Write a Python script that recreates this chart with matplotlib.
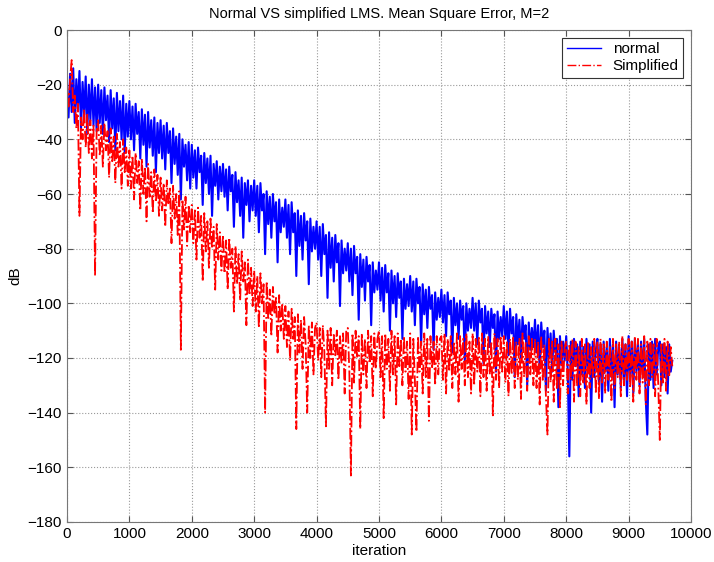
import numpy as np
import matplotlib
matplotlib.use('Agg')
import matplotlib.pyplot as plt

STEP = 25  # iterations between stored samples

# mean square error in dB, normal LMS (one row = 500 iterations)
mse_normal = [
    -24, -32, -16, -30, -14, -34, -18, -29, -15, -36, -19, -31, -17, -38, -20, -33, -18, -35, -21, -37,
    -20, -34, -22, -38, -21, -33, -24, -41, -22, -36, -25, -44, -23, -37, -26, -40, -24, -45, -27, -39,
    -26, -40, -28, -44, -27, -38, -30, -47, -29, -42, -31, -50, -30, -43, -33, -46, -32, -52, -34, -45,
    -33, -47, -35, -51, -34, -45, -37, -56, -36, -49, -39, -53, -38, -62, -40, -50, -42, -55, -41, -58,
    -42, -54, -44, -58, -43, -52, -46, -64, -45, -56, -47, -60, -46, -68, -49, -57, -48, -62, -50, -59,
    -49, -61, -51, -66, -50, -59, -53, -72, -52, -63, -55, -68, -54, -76, -56, -64, -55, -70, -57, -66,
    -55, -68, -57, -74, -56, -66, -60, -82, -59, -71, -61, -76, -60, -70, -63, -85, -62, -74, -65, -72,
    -62, -76, -64, -82, -63, -74, -67, -90, -66, -79, -68, -84, -67, -77, -70, -93, -69, -81, -72, -80,
    -70, -84, -72, -90, -71, -82, -75, -98, -74, -87, -76, -92, -75, -85, -78, -101, -77, -89, -80, -88,
    -78, -92, -80, -97, -79, -89, -83, -106, -82, -94, -84, -99, -83, -92, -86, -108, -85, -96, -88, -95,
    -85, -99, -87, -103, -86, -96, -89, -110, -88, -100, -90, -105, -89, -98, -92, -113, -91, -102, -93, -101,
    -90, -103, -92, -108, -91, -100, -94, -115, -93, -104, -95, -109, -94, -102, -97, -117, -96, -106, -98, -105,
    -95, -107, -97, -112, -96, -104, -99, -118, -98, -108, -100, -113, -99, -106, -101, -121, -100, -110, -102, -109,
    -98, -110, -100, -115, -99, -107, -102, -122, -101, -111, -103, -116, -102, -109, -104, -125, -103, -113, -105, -112,
    -101, -113, -103, -119, -102, -111, -105, -127, -104, -115, -106, -120, -105, -113, -108, -130, -107, -117, -109, -116,
    -106, -118, -108, -124, -107, -116, -110, -132, -109, -120, -111, -125, -110, -118, -113, -138, -112, -122, -114, -121,
    -112, -125, -156, -114, -128, -113, -123, -115, -134, -114, -126, -116, -131, -113, -124, -115, -140, -114, -127, -117,
    -113, -129, -115, -136, -114, -125, -116, -132, -113, -127, -115, -138, -114, -126, -116, -131, -113, -128, -115, -134,
    -112, -127, -114, -133, -113, -125, -115, -130, -114, -126, -113, -135, -148, -115, -128, -114, -131, -113, -126, -116,
    -114, -130, -115, -127, -116, -133, -115, -125, -121,
]

# mean square error in dB, simplified LMS
mse_simplified = [
    -20, -28, -18, -11, -30, -24, -36, -27, -68, -32, -40, -29, -43, -31, -45, -33, -47, -35, -90, -37,
    -33, -46, -35, -50, -34, -44, -37, -54, -36, -48, -39, -56, -38, -50, -41, -58, -40, -52, -43, -57,
    -44, -58, -46, -62, -45, -56, -48, -66, -47, -60, -50, -70, -49, -61, -52, -67, -51, -63, -53, -68,
    -54, -66, -56, -72, -55, -64, -58, -78, -57, -69, -60, -75, -59, -117, -62, -73, -61, -79, -64, -74,
    -64, -78, -66, -84, -65, -76, -68, -92, -67, -81, -70, -87, -69, -80, -72, -95, -71, -84, -74, -88,
    -75, -89, -77, -95, -76, -87, -80, -103, -79, -93, -82, -99, -81, -92, -85, -108, -84, -97, -87, -101,
    -88, -103, -90, -109, -89, -100, -93, -140, -92, -106, -95, -112, -94, -104, -98, -118, -97, -110, -100, -113,
    -101, -116, -103, -121, -102, -113, -105, -146, -104, -118, -106, -124, -105, -115, -140, -108, -120, -107, -126, -109,
    -107, -121, -109, -127, -108, -118, -145, -110, -124, -109, -130, -111, -119, -110, -128, -112, -122, -111, -133, -110,
    -109, -125, -163, -111, -129, -110, -120, -112, -146, -111, -126, -113, -131, -110, -122, -112, -134, -111, -124, -113,
    -110, -127, -112, -142, -111, -124, -113, -132, -110, -126, -112, -137, -111, -123, -113, -130, -112, -125, -114, -135,
    -111, -148, -113, -128, -147, -112, -125, -114, -133, -111, -127, -113, -143, -112, -124, -114, -130, -112, -126, -113,
    -112, -128, -111, -133, -113, -125, -112, -131, -114, -126, -111, -136, -112, -124, -113, -130, -111, -127, -114, -133,
    -111, -130, -113, -125, -112, -134, -111, -127, -113, -132, -112, -126, -114, -141, -111, -128, -113, -131, -112, -125,
    -112, -129, -114, -134, -113, -126, -112, -131, -114, -128, -113, -135, -111, -127, -114, -132, -112, -126, -113, -130,
    -113, -131, -114, -137, -112, -128, -115, -134, -148, -113, -129, -114, -136, -113, -131, -115, -138, -114, -130, -116,
    -114, -133, -115, -128, -113, -136, -114, -130, -116, -134, -113, -129, -115, -137, -114, -131, -116, -127, -113, -133,
    -114, -135, -113, -129, -115, -133, -114, -128, -116, -136, -113, -131, -115, -127, -114, -134, -112, -130, -115, -128,
    -113, -131, -114, -136, -112, -128, -113, -133, -115, -129, -112, -137, -114, -130, -113, -127, -115, -134, -113, -130,
    -150, -115, -129, -113, -132, -114, -127, -116, -123,
]

it_normal = STEP * np.arange(len(mse_normal))
it_simplified = STEP * np.arange(len(mse_simplified))

plt.rcParams['font.family'] = ['Liberation Sans', 'DejaVu Sans']

fig = plt.figure(figsize=(7.14, 5.62), dpi=100)
ax = fig.add_axes([0.0938, 0.0712, 0.874, 0.8754])

ax.plot(it_normal, mse_normal, color='#0000ff', lw=1.5, label='normal')
ax.plot(it_simplified, mse_simplified, color='#ff0000', lw=1.3, ls='-.', label='Simplified')

ax.set_xlim(0, 10000)
ax.set_ylim(-180, 0)
ax.set_xticks(np.arange(0, 10001, 1000))
ax.set_yticks(np.arange(-180, 1, 20))
ax.grid(True, ls=':', color='#999999', lw=0.8)
ax.tick_params(direction='in', top=True, right=True, labelsize=11, length=4, color='#555555')
for s in ax.spines.values():
    s.set_color('#777777')

ax.set_title('Normal VS simplified LMS. Mean Square Error, M=2', fontsize=10.5, pad=9)
ax.set_xlabel('iteration', fontsize=11, labelpad=2)
ax.set_ylabel('dB', fontsize=11, labelpad=4)

leg = ax.legend(loc='upper right', fontsize=11, fancybox=False, framealpha=1,
                edgecolor='#333333', handlelength=2.2, borderpad=0.3, labelspacing=0.2)
leg.get_frame().set_linewidth(0.8)
for line in leg.get_lines():
    line.set_linewidth(1.0)

fig.savefig('out.png', dpi=100)
